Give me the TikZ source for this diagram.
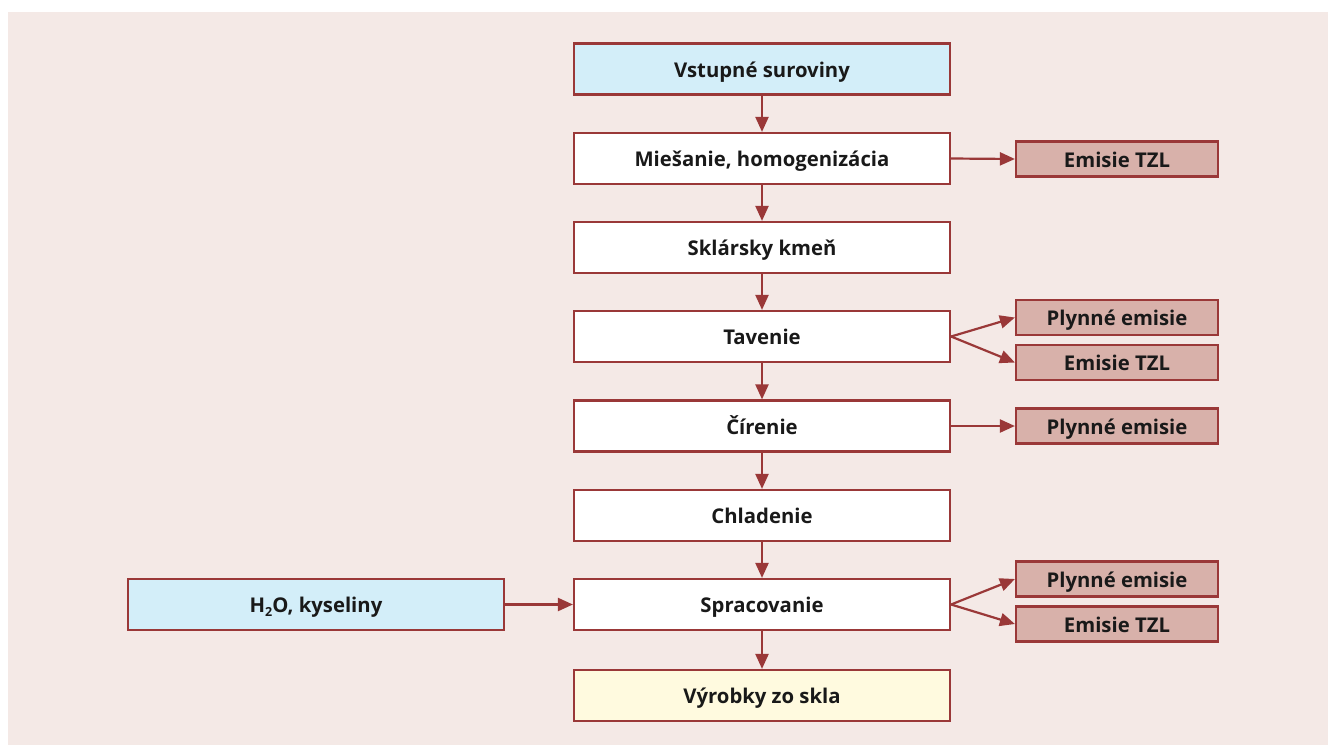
\documentclass[tikz,border=0pt]{standalone}
\usepackage{fontspec}
\setmainfont{Open Sans}
\usetikzlibrary{arrows.meta,positioning}
\definecolor{bgcol}{HTML}{F4E9E6}
\definecolor{edgecol}{HTML}{9A3838}
\definecolor{inputcol}{HTML}{D3EEF9}
\definecolor{emitcol}{HTML}{D8B1AA}
\definecolor{productcol}{HTML}{FFFADF}
\begin{document}
\begin{tikzpicture}[x=1pt,y=-1pt,
  every node/.style={font=\bfseries\fontsize{20.3}{24}\selectfont, text=black!90, text height=18.5pt, text depth=2pt},
  stage/.style={draw=edgecol, line width=2.2pt, fill=white, minimum width=376pt, minimum height=51pt, inner sep=0pt},
  inputbox/.style={stage, fill=inputcol},
  productbox/.style={stage, fill=productcol},
  emitbox/.style={draw=edgecol, line width=2.2pt, fill=emitcol, minimum width=202pt, minimum height=35pt, inner sep=0pt},
  flow/.style={draw=edgecol, line width=2.2pt, -{Triangle[length=15pt,width=13pt]}}
]
\useasboundingbox (0,0) rectangle (1328,745);
\fill[bgcol] (8,12) rectangle (1328,745);

% main process column
\node[inputbox]   (vstup)  at (762,69)  {Vstupné suroviny};
\node[stage]      (mies)   at (762,158.5) {Miešanie, homogenizácia};
\node[stage]      (kmen)   at (762,247.5) {Sklársky kmeň};
\node[stage]      (taven)  at (762,336.5) {Tavenie};
\node[stage]      (ciren)  at (762,426) {Čírenie};
\node[stage]      (chlad)  at (762,515.5) {Chladenie};
\node[stage]      (sprac)  at (762,604.5) {Spracovanie};
\node[productbox] (vyrob)  at (762,695.5) {Výrobky zo skla};

% side input
\node[inputbox] (voda) at (316,604.5) {H\raisebox{-0.35ex}{\fontsize{12.5}{14}\selectfont 2}O, kyseliny};

% emissions
\node[emitbox] (e1) at (1117,159) {Emisie TZL};
\node[emitbox] (e2) at (1117,317.5) {Plynné emisie};
\node[emitbox] (e3) at (1117,362.5) {Emisie TZL};
\node[emitbox] (e4) at (1117,426) {Plynné emisie};
\node[emitbox] (e5) at (1117,579) {Plynné emisie};
\node[emitbox] (e6) at (1117,624) {Emisie TZL};

% flow arrows
\draw[flow] (vstup) -- (mies);
\draw[flow] (mies) -- (kmen);
\draw[flow] (kmen) -- (taven);
\draw[flow] (taven) -- (ciren);
\draw[flow] (ciren) -- (chlad);
\draw[flow] (chlad) -- (sprac);
\draw[flow] (sprac) -- (vyrob);
\draw[flow] (voda) -- (sprac);

\draw[flow] (mies.east) -- (e1.west);
\draw[flow] (taven.east) -- (e2.west);
\draw[flow] (taven.east) -- (e3.west);
\draw[flow] (ciren.east) -- (e4.west);
\draw[flow] (sprac.east) -- (e5.west);
\draw[flow] (sprac.east) -- (e6.west);
\end{tikzpicture}
\end{document}
